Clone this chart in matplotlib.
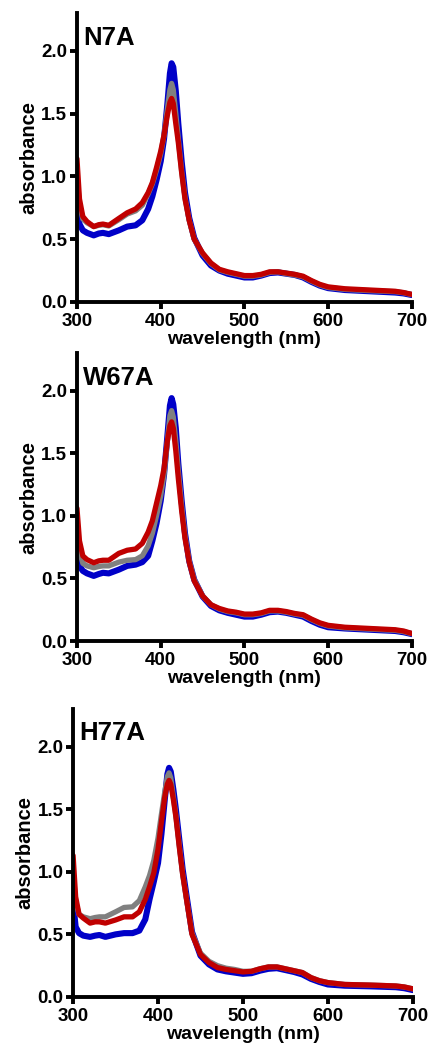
import matplotlib
matplotlib.use('Agg')
from matplotlib import pyplot as plt

plt.rcParams['font.family'] = ['Liberation Sans', 'DejaVu Sans']
plt.rcParams['font.weight'] = 'bold'

wavelength = [300, 303, 307, 312, 320, 326, 331, 338, 350, 360, 370, 378,
              385, 390, 395, 400, 404, 408, 411, 413, 415, 418, 421, 425,
              429, 434, 440, 450, 460, 470, 480, 490, 500, 510, 520, 530,
              540, 550, 560, 570, 580, 590, 600, 620, 650, 680, 690, 700]

panel_names = ['N7A', 'W67A', 'H77A']

# N7A
n7a_blue = [0.80, 0.62, 0.57, 0.55, 0.53, 0.545, 0.55, 0.54, 0.57, 0.60, 0.61, 0.65,
            0.74, 0.84, 0.97, 1.12, 1.30, 1.58, 1.82, 1.90, 1.87, 1.68, 1.42, 1.12,
            0.87, 0.67, 0.51, 0.37, 0.29, 0.25, 0.225, 0.21, 0.195, 0.195, 0.21, 0.23,
            0.235, 0.225, 0.215, 0.195, 0.16, 0.13, 0.11, 0.095, 0.085, 0.075, 0.068, 0.055]
n7a_gray = [1.00, 0.78, 0.66, 0.63, 0.60, 0.61, 0.615, 0.605, 0.655, 0.70, 0.725, 0.77,
            0.86, 0.94, 1.05, 1.18, 1.33, 1.54, 1.69, 1.74, 1.69, 1.50, 1.30, 1.04,
            0.83, 0.65, 0.50, 0.385, 0.305, 0.255, 0.235, 0.22, 0.205, 0.205, 0.215, 0.235,
            0.24, 0.225, 0.215, 0.20, 0.165, 0.135, 0.115, 0.10, 0.09, 0.082, 0.073, 0.058]
n7a_red = [1.14, 0.82, 0.68, 0.64, 0.60, 0.615, 0.62, 0.61, 0.665, 0.71, 0.74, 0.79,
           0.87, 0.95, 1.07, 1.20, 1.33, 1.49, 1.59, 1.62, 1.58, 1.42, 1.27, 1.03,
           0.82, 0.65, 0.50, 0.39, 0.31, 0.26, 0.24, 0.225, 0.21, 0.21, 0.22, 0.24,
           0.24, 0.23, 0.22, 0.205, 0.17, 0.14, 0.12, 0.105, 0.095, 0.085, 0.075, 0.06]

# W67A
w67a_blue = [0.74, 0.60, 0.56, 0.54, 0.52, 0.535, 0.545, 0.54, 0.57, 0.60, 0.61, 0.63,
             0.68, 0.80, 0.94, 1.12, 1.33, 1.64, 1.88, 1.94, 1.89, 1.70, 1.42, 1.12,
             0.86, 0.64, 0.49, 0.355, 0.28, 0.245, 0.225, 0.21, 0.195, 0.195, 0.21, 0.23,
             0.235, 0.225, 0.21, 0.195, 0.16, 0.13, 0.11, 0.10, 0.09, 0.08, 0.07, 0.055]
w67a_gray = [0.95, 0.72, 0.62, 0.60, 0.585, 0.595, 0.60, 0.60, 0.63, 0.645, 0.65, 0.68,
             0.76, 0.86, 1.00, 1.16, 1.33, 1.60, 1.80, 1.84, 1.79, 1.60, 1.36, 1.08,
             0.84, 0.64, 0.49, 0.36, 0.29, 0.255, 0.235, 0.225, 0.21, 0.21, 0.22, 0.24,
             0.24, 0.23, 0.215, 0.205, 0.17, 0.14, 0.12, 0.105, 0.095, 0.085, 0.075, 0.058]
w67a_red = [1.06, 0.80, 0.68, 0.65, 0.625, 0.64, 0.645, 0.645, 0.70, 0.725, 0.735, 0.78,
            0.87, 0.96, 1.10, 1.24, 1.38, 1.60, 1.72, 1.75, 1.70, 1.52, 1.30, 1.04,
            0.82, 0.63, 0.48, 0.36, 0.29, 0.26, 0.24, 0.23, 0.215, 0.215, 0.225, 0.245,
            0.245, 0.235, 0.22, 0.21, 0.175, 0.145, 0.125, 0.11, 0.10, 0.09, 0.08, 0.06]

# H77A
h77a_blue = [0.76, 0.56, 0.51, 0.49, 0.48, 0.49, 0.495, 0.48, 0.50, 0.51, 0.51, 0.53,
             0.62, 0.78, 0.92, 1.07, 1.30, 1.58, 1.78, 1.83, 1.80, 1.66, 1.50, 1.26,
             1.02, 0.79, 0.52, 0.33, 0.26, 0.22, 0.205, 0.195, 0.185, 0.19, 0.21, 0.225,
             0.23, 0.215, 0.20, 0.18, 0.145, 0.12, 0.10, 0.09, 0.085, 0.078, 0.07, 0.055]
h77a_gray = [1.00, 0.76, 0.66, 0.64, 0.625, 0.635, 0.64, 0.64, 0.68, 0.715, 0.72, 0.77,
             0.88, 0.97, 1.09, 1.27, 1.46, 1.64, 1.76, 1.79, 1.75, 1.60, 1.45, 1.21,
             0.98, 0.76, 0.51, 0.35, 0.285, 0.25, 0.23, 0.22, 0.205, 0.205, 0.225, 0.24,
             0.24, 0.225, 0.21, 0.195, 0.155, 0.13, 0.115, 0.10, 0.095, 0.088, 0.08, 0.065]
h77a_red = [1.13, 0.80, 0.66, 0.63, 0.59, 0.60, 0.60, 0.59, 0.615, 0.64, 0.64, 0.68,
            0.78, 0.88, 0.99, 1.18, 1.40, 1.60, 1.70, 1.73, 1.70, 1.58, 1.44, 1.20,
            0.98, 0.76, 0.50, 0.34, 0.275, 0.235, 0.22, 0.21, 0.20, 0.205, 0.225, 0.24,
            0.24, 0.225, 0.21, 0.195, 0.155, 0.13, 0.115, 0.10, 0.095, 0.088, 0.08, 0.065]

spectra = [
    (n7a_blue, n7a_gray, n7a_red),
    (w67a_blue, w67a_gray, w67a_red),
    (h77a_blue, h77a_gray, h77a_red),
]

line_colors = ['#0000C8', '#808080', '#C00000']
line_widths = [4.4, 3.8, 3.8]

# axes boxes in figure fractions (left, bottom, width, height)
boxes = [
    (0.179, 0.7127, 0.779, 0.2749),
    (0.179, 0.3901, 0.779, 0.2740),
    (0.170, 0.0514, 0.790, 0.2740),
]

fig = plt.figure(figsize=(4.3, 10.51), dpi=100)

for name, series, box in zip(panel_names, spectra, boxes):
    ax = fig.add_axes(box)
    for ys, c, lw in zip(series, line_colors, line_widths):
        ax.plot(wavelength, ys, color=c, lw=lw, solid_capstyle='round',
                solid_joinstyle='round')
    ax.set_xlim(300, 700)
    ax.set_ylim(0, 2.3)
    ax.set_xticks([300, 400, 500, 600, 700])
    ax.set_yticks([0.0, 0.5, 1.0, 1.5, 2.0])
    ax.set_yticklabels(['0.0', '0.5', '1.0', '1.5', '2.0'])
    for side in ['top', 'right']:
        ax.spines[side].set_visible(False)
    for side in ['left', 'bottom']:
        ax.spines[side].set_linewidth(2.8)
    ax.tick_params(width=2.8, length=5, labelsize=13.5)
    ax.tick_params(axis='x', pad=3)
    ax.tick_params(axis='y', pad=2)
    ax.set_xlabel('wavelength (nm)', fontsize=14, fontweight='bold', labelpad=0.5)
    ax.set_ylabel('absorbance', fontsize=14.5, fontweight='bold', labelpad=2)
    ax.text(0.018, 0.915, name, transform=ax.transAxes, fontsize=18.5,
            fontweight='bold', va='center', ha='left')

fig.savefig('out.png', dpi=100)
